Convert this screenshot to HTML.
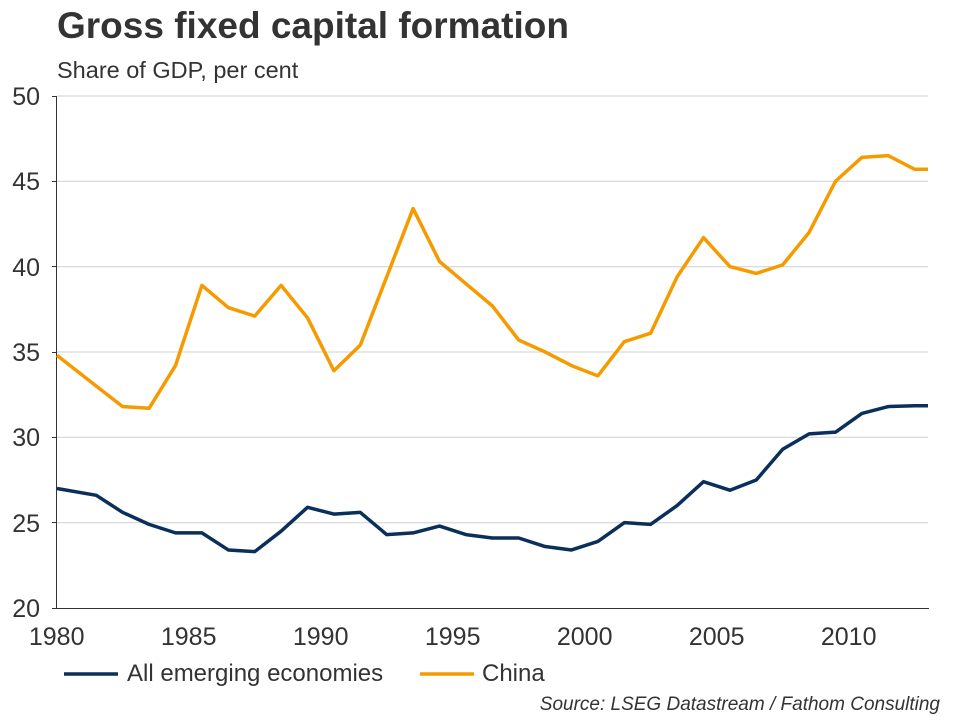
<!DOCTYPE html>
<html><head><meta charset="utf-8"><style>body{margin:0;background:#fff}svg{display:block}</style></head><body>
<svg width="960" height="720" xmlns="http://www.w3.org/2000/svg" font-family="Liberation Sans, Arial, sans-serif">
<text x="57" y="38" font-size="37" font-weight="bold" fill="#333">Gross fixed capital formation</text>
<text x="57" y="78" font-size="23.5" fill="#333">Share of GDP, per cent</text>
<g stroke="#d0d0d0" stroke-width="1">
<line x1="57" x2="928" y1="96" y2="96"/><line x1="57" x2="928" y1="181.3" y2="181.3"/><line x1="57" x2="928" y1="266.7" y2="266.7"/><line x1="57" x2="928" y1="352" y2="352"/><line x1="57" x2="928" y1="437.3" y2="437.3"/><line x1="57" x2="928" y1="522.7" y2="522.7"/>
</g>
<g stroke="#333" stroke-width="1">
<line x1="56.5" x2="56.5" y1="96" y2="608"/>
<line x1="52" x2="929" y1="608.5" y2="608.5"/>
<line x1="52" x2="56" y1="96.5" y2="96.5"/><line x1="52" x2="56" y1="181.5" y2="181.5"/><line x1="52" x2="56" y1="266.5" y2="266.5"/><line x1="52" x2="56" y1="352.5" y2="352.5"/><line x1="52" x2="56" y1="437.5" y2="437.5"/><line x1="52" x2="56" y1="522.5" y2="522.5"/>
</g>
<g id="ticks" stroke="#333"></g>
<g font-size="25" fill="#333" text-anchor="end">
<text x="40" y="105">50</text><text x="40" y="190">45</text><text x="40" y="276">40</text><text x="40" y="361">35</text><text x="40" y="446">30</text><text x="40" y="532">25</text><text x="40" y="617">20</text>
</g>
<g font-size="25" fill="#333" text-anchor="middle">
<text x="56.7" y="645">1980</text><text x="188.7" y="645">1985</text><text x="320.7" y="645">1990</text><text x="452.7" y="645">1995</text><text x="584.7" y="645">2000</text><text x="716.7" y="645">2005</text><text x="848.7" y="645">2010</text>
</g>
<polyline id="china" fill="none" stroke="#f59b00" stroke-width="3.5" stroke-linejoin="round"/>
<polyline id="em" fill="none" stroke="#0b2f5b" stroke-width="3.5" stroke-linejoin="round"/>
<line x1="64" x2="118" y1="674" y2="674" stroke="#0b2f5b" stroke-width="3.5"/>
<text x="127" y="681" font-size="24" fill="#333">All emerging economies</text>
<line x1="420" x2="474" y1="674" y2="674" stroke="#f59b00" stroke-width="3.5"/>
<text x="482" y="681" font-size="24" fill="#333">China</text>
<text x="940" y="710" font-size="19" font-style="italic" fill="#333" text-anchor="end">Source: LSEG Datastream / Fathom Consulting</text>
<script>
var c=[34.8,33.0,31.8,31.7,34.2,38.9,37.6,37.1,38.9,37.0,33.9,35.4,39.4,43.4,40.3,39.0,37.7,35.7,35.0,34.2,33.6,35.6,36.1,39.4,41.7,40.0,39.6,40.1,42.0,45.0,46.4,46.5,45.7,45.7];
var e=[27.0,26.6,25.6,24.9,24.4,24.4,23.4,23.3,24.5,25.9,25.5,25.6,24.3,24.4,24.8,24.3,24.1,24.1,23.6,23.4,23.9,25.0,24.9,26.0,27.4,26.9,27.5,29.3,30.2,30.3,31.4,31.8,31.85,31.85];
function xs(i){return i==0?57:(i==33?928:69.9+26.4*i);}
function pts(a){return a.map(function(v,i){return xs(i)+","+(608-(v-20)*17.07)}).join(" ");}
document.getElementById("china").setAttribute("points",pts(c));
document.getElementById("em").setAttribute("points",pts(e));
var t="";for(var y=0;y<=33;y++){var x=56.7+26.4*y;var h=(y%5==0)?6:4;t+='<line x1="'+x+'" x2="'+x+'" y1="608" y2="'+(608+h)+'"/>';}
document.getElementById("ticks").innerHTML=t;
</script>
</svg>
</body></html>
